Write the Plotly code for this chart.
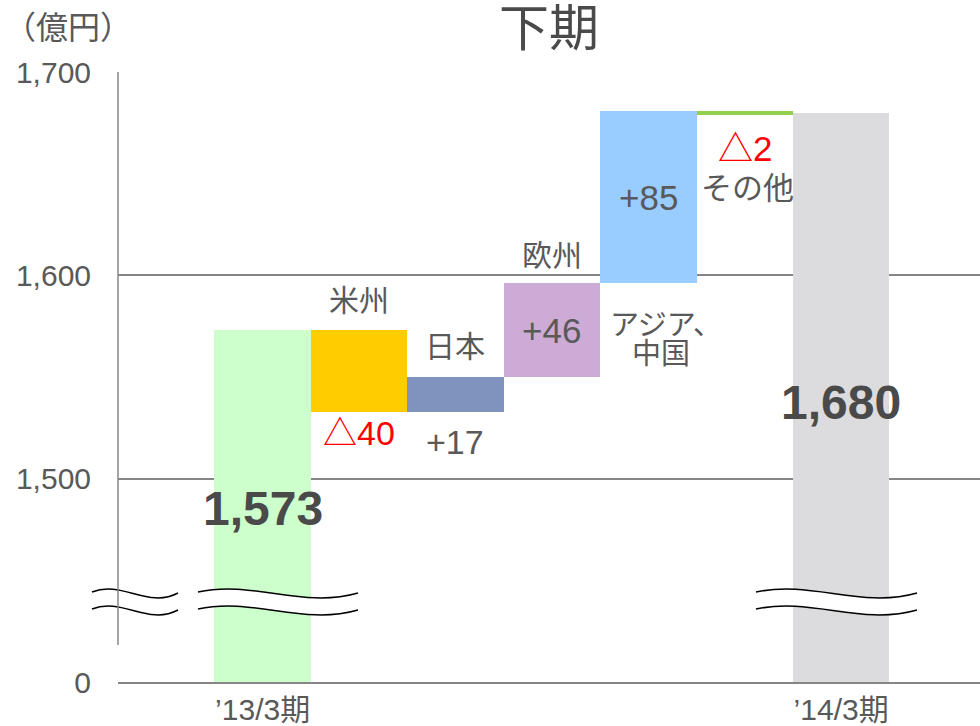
import plotly.graph_objects as go

# ---- data ----
start_label = "’13/3期"
end_label = "’14/3期"
start_value = 1573
end_value = 1680
regions = ["米州", "日本", "欧州", "アジア、中国", "その他"]
deltas = [-40, 17, 46, 85, -2]
delta_texts = ["△40", "+17", "+46", "+85", "△2"]
y_tick_vals = [1400, 1500, 1600, 1700]
y_tick_text = ["0", "1,500", "1,600", "1,700"]
colors = ["#CCFFCC", "#FFCC00", "#8093BE", "#CCACD6", "#99CCFF", "#92D050", "#DCDCDE"]

# ---- derived bar geometry ----
levels = [start_value]
for d in deltas:
    levels.append(levels[-1] + d)
x_pos = list(range(len(deltas) + 2))
bases = [0] + [min(levels[i], levels[i + 1]) for i in range(len(deltas))] + [0]
heights = [start_value] + [abs(d) for d in deltas] + [end_value]

W, H = 980, 726
ML, MR, MT, MB = 118, 0, 72, 44
PW, PH = W - ML - MR, H - MT - MB
Y0, Y1 = 1400, 1700
XR = [-1.5, 7.44]

def PX(px):  # pixel -> paper x
    return (px - ML) / PW

def PY(py):  # pixel -> paper y
    return (H - MB - py) / PH

def DY(py):  # pixel -> data y
    return Y0 + (H - MB - py) / PH * (Y1 - Y0)

def DX(px):
    return XR[0] + (px - ML) / PW * (XR[1] - XR[0])

FONT = "Liberation Sans, Arial, Noto Sans CJK JP, sans-serif"
GRAY = "#595959"
DARK = "#4A4A4A"
RED = "#FF0000"

fig = go.Figure()
fig.add_trace(go.Bar(
    x=x_pos, y=heights, base=bases, width=1.0,
    marker=dict(color=colors, line=dict(width=0)),
    hoverinfo="skip", showlegend=False,
))

ann = []
def add(text, x, y, size, color=GRAY, bold=False, yshift=0, xref="x", yref="y"):
    ann.append(dict(text=f"<b>{text}</b>" if bold else text, x=x, y=y, xref=xref, yref=yref,
                    showarrow=False, xanchor="center", yanchor="middle", yshift=yshift,
                    font=dict(family=FONT, size=size, color=color)))

# region labels and delta values
add(regions[0], 1, max(levels[0], levels[1]), 30, yshift=30)
add(delta_texts[0], 1, min(levels[0], levels[1]), 34, color=RED, yshift=-21)
add(regions[1], 2, max(levels[1], levels[2]), 30, yshift=31)
add(delta_texts[1], 2, min(levels[1], levels[2]), 34, yshift=-30)
add(regions[2], 3, max(levels[2], levels[3]), 30, yshift=28)
add(delta_texts[2], 3, (levels[2] + levels[3]) / 2, 35)
add(delta_texts[3], 4, (levels[3] + levels[4]) / 2, 35)
asia = regions[3].split("、")
add(asia[0] + "、", DX(666), min(levels[3], levels[4]), 29, yshift=-42)
add(asia[1], DX(661), min(levels[3], levels[4]), 29, yshift=-71)
add(delta_texts[4], 5, max(levels[4], levels[5]), 35, color=RED, yshift=-38)
add(regions[4], DX(747), max(levels[4], levels[5]), 31, yshift=-78)
add(f"{start_value:,}", 0, DY(508), 48, color=DARK, bold=True)
add(f"{end_value:,}", 6, DY(402), 48, color=DARK, bold=True)

# unit label
ann.append(dict(text="（億円）", x=PX(2), y=PY(28), xref="paper", yref="paper",
                showarrow=False, xanchor="left", yanchor="middle",
                font=dict(family=FONT, size=32, color=GRAY)))

shapes = []
# break marks
def curve(x0, x1, yt):
    w = x1 - x0
    return [(x0, yt), (x0 + 0.35 * w, yt - 12), (x0 + 0.65 * w, yt + 17), (x1, yt + 1)]

def pt(p):
    return f"{PX(p[0]):.5f},{PY(p[1]):.5f}"

for (x0, x1) in [(92, 178), (198, 358), (756, 917)]:
    up = curve(x0, x1, 592)
    lo = curve(x0, x1, 609)
    fill = (f"M{pt(up[0])} C{pt(up[1])} {pt(up[2])} {pt(up[3])} L{pt(lo[3])} "
            f"C{pt(lo[2])} {pt(lo[1])} {pt(lo[0])} Z")
    shapes.append(dict(type="path", path=fill, xref="paper", yref="paper",
                       fillcolor="white", line=dict(width=0)))
    for c in (up, lo):
        shapes.append(dict(type="path", path=f"M{pt(c[0])} C{pt(c[1])} {pt(c[2])} {pt(c[3])}",
                           xref="paper", yref="paper", line=dict(color="black", width=1.5)))

# left axis line (with gap near the bottom)
shapes.append(dict(type="line", xref="paper", yref="paper", x0=0, x1=0, y0=PY(645), y1=1,
                   line=dict(color="#868686", width=1.5)))

fig.update_layout(
    width=W, height=H, margin=dict(l=ML, r=MR, t=MT, b=MB, pad=0, autoexpand=False),
    paper_bgcolor="white", plot_bgcolor="white", bargap=0,
    title=dict(text="下期", x=PX(549), xref="paper", xanchor="center",
               y=1 - 28 / H, yanchor="middle", automargin=False,
               font=dict(family=FONT, size=50, color=DARK)),
    xaxis=dict(range=XR, tickvals=[0, 6], ticktext=[start_label, end_label], automargin=False,
               showgrid=False, zeroline=False, showline=True, linecolor="#868686", linewidth=1.5,
               ticks="", tickfont=dict(family=FONT, size=30, color=GRAY), ticklabelstandoff=0),
    yaxis=dict(range=[Y0, Y1], tickvals=y_tick_vals, ticktext=y_tick_text, automargin=False,
               showgrid=True, gridcolor="#868686", gridwidth=1.5, zeroline=False, showline=False,
               ticks="", tickfont=dict(family=FONT, size=30, color=GRAY), ticklabelstandoff=26),
    annotations=ann, shapes=shapes,
)

fig.write_html("out.html", config={"displayModeBar": False},
               post_script="document.body.style.margin='0';document.body.style.overflow='hidden';")
